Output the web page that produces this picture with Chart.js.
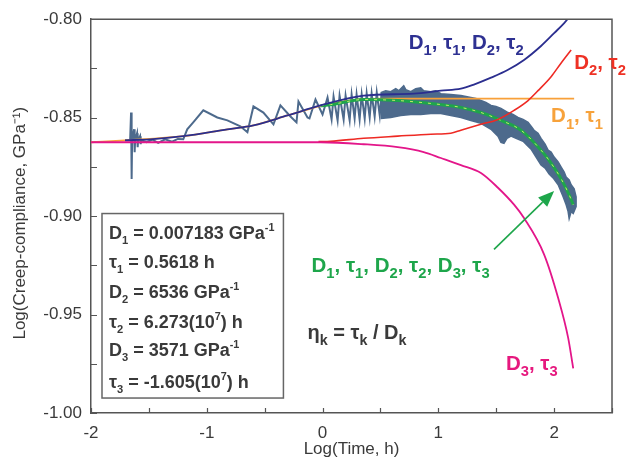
<!DOCTYPE html>
<html>
<head>
<meta charset="utf-8">
<script src="https://cdn.jsdelivr.net/npm/chart.js@4.4.1/dist/chart.umd.min.js"></script>
<style>
  html, body { margin: 0; padding: 0; background: #fff; }
  #wrap { width: 630px; height: 461px; }
</style>
</head>
<body>
<div id="wrap"><canvas id="c" width="630" height="461"></canvas></div>
<script>
// ---- measured creep compliance: early cyclic part, traced as a line ----
const noiseT = [-1.706, -1.662, -1.654, -1.649, -1.645, -1.628, -1.623, -1.619, -1.602, -1.597, -1.593, -1.576, -1.571, -1.567,
  -1.52, -1.47, -1.42, -1.36, -1.30, -1.25, -1.203,
  -1.169, -1.117, -1.030, -0.909, -0.822, -0.710, -0.649, -0.597, -0.511, -0.424, -0.364, -0.277, -0.225, -0.208,
  -0.130, -0.113, -0.061, 0.000, 0.043,
  0.078, 0.095, 0.130, 0.147, 0.182, 0.199, 0.234, 0.251, 0.277, 0.294, 0.320, 0.338, 0.364, 0.381, 0.407, 0.424,
  0.450, 0.468, 0.494, 0.511];
const noiseJ = [-0.8615, -0.8615, -0.8474, -0.8811, -0.8620, -0.8559, -0.8675, -0.8615, -0.8579, -0.8650, -0.8615, -0.8594, -0.8635, -0.8615,
  -0.8625, -0.8612, -0.8628, -0.8610, -0.8622, -0.8608, -0.8610,
  -0.8559, -0.8524, -0.8463, -0.8499, -0.8514, -0.8544, -0.8574, -0.8443, -0.8474, -0.8534, -0.8438, -0.8494, -0.8524, -0.8418,
  -0.8499, -0.8504, -0.8408, -0.8484, -0.8398,
  -0.8509, -0.8393, -0.8514, -0.8388, -0.8509, -0.8388, -0.8514, -0.8383, -0.8504, -0.8383, -0.8509, -0.8383, -0.8504, -0.8378, -0.8499, -0.8378,
  -0.8494, -0.8373, -0.8489, -0.8373];

// ---- measured creep compliance: later dense scatter, upper and lower envelopes ----
const bandUpperT = [0.502, 0.545, 0.589, 0.632, 0.658, 0.701, 0.719, 0.762, 0.805, 0.848, 0.874, 0.935, 0.978, 1.022, 1.108,
  1.195, 1.238, 1.281, 1.325, 1.368, 1.411, 1.455, 1.498, 1.541, 1.602, 1.645, 1.688, 1.732, 1.775, 1.801, 1.827, 1.861,
  1.887, 1.922, 1.948, 1.974, 2.000, 2.035, 2.061, 2.087, 2.104, 2.130, 2.147, 2.173, 2.190];
const bandUpperJ = [-0.8373, -0.8363, -0.8368, -0.8353, -0.8363, -0.8338, -0.8358, -0.8368, -0.8353, -0.8348, -0.8363, -0.8368, -0.8363, -0.8378, -0.8383,
  -0.8388, -0.8393, -0.8398, -0.8403, -0.8413, -0.8423, -0.8438, -0.8443, -0.8453, -0.8474, -0.8484, -0.8499, -0.8509, -0.8524, -0.8544, -0.8564, -0.8579,
  -0.8605, -0.8635, -0.8665, -0.8675, -0.8700, -0.8725, -0.8751, -0.8776, -0.8801, -0.8816, -0.8841, -0.8861, -0.8902];
const bandLowerT = [0.502, 0.589, 0.675, 0.762, 0.848, 0.935, 1.022, 1.108, 1.152, 1.195, 1.281, 1.368, 1.411, 1.455, 1.489,
  1.515, 1.541, 1.567, 1.593, 1.628, 1.671, 1.732, 1.766, 1.801, 1.844, 1.887, 1.922, 1.957, 1.991, 2.035, 2.061, 2.078,
  2.104, 2.121, 2.130, 2.147, 2.165, 2.190];
const bandLowerJ = [-0.8504, -0.8499, -0.8489, -0.8484, -0.8484, -0.8479, -0.8479, -0.8489, -0.8494, -0.8499, -0.8514, -0.8529, -0.8544, -0.8559, -0.8579,
  -0.8594, -0.8625, -0.8630, -0.8605, -0.8594, -0.8605, -0.8620, -0.8640, -0.8660, -0.8700, -0.8741, -0.8756, -0.8786, -0.8806, -0.8841, -0.8877, -0.8902,
  -0.8942, -0.8977, -0.9013, -0.8977, -0.8987, -0.8952];

// ---- model curves ----
// D1, τ1, D2, τ2, D3, τ3 (coincides with the two-element curve at short times)
const fitAllT = [-0.017, 0.069, 0.355, 0.649, 0.935, 1.195, 1.368, 1.541, 1.714, 1.887, 1.948, 2.061, 2.130, 2.165];
const fitAllJ = [-0.8440, -0.8434, -0.8408, -0.8413, -0.8428, -0.8448, -0.8474, -0.8514, -0.8564, -0.8665, -0.8710, -0.8811, -0.8892, -0.8942];
// D1, τ1, D2, τ2
const fit12T = [-1.706, -1.489, -1.203, -0.822, -0.597, -0.303, -0.017, 0.355, 0.788, 1.022, 1.195, 1.307, 1.455, 1.602, 1.740, 1.887, 2.000, 2.087, 2.130];
const fit12J = [-0.8615, -0.8610, -0.8594, -0.8559, -0.8539, -0.8489, -0.8438, -0.8388, -0.8378, -0.8363, -0.8353, -0.8332, -0.8297, -0.8257, -0.8207, -0.8136, -0.8071, -0.8020, -0.7990];
// D1, τ1
const fit1T = [-2, -1.706, -1.203, -0.822, -0.597, -0.303, -0.017, 0.182, 0.355, 0.6, 2.173];
const fit1J = [-0.8625, -0.8615, -0.8594, -0.8559, -0.8539, -0.8489, -0.8440, -0.8418, -0.8405, -0.8403, -0.8403];
// D2, τ2
const fit2T = [-0.035, 0.069, 0.355, 0.649, 0.935, 1.108, 1.195, 1.368, 1.515, 1.654, 1.775, 1.861, 1.974, 2.061, 2.147];
const fit2J = [-0.8622, -0.8620, -0.8605, -0.8594, -0.8584, -0.8579, -0.8564, -0.8534, -0.8509, -0.8463, -0.8413, -0.8363, -0.8292, -0.8222, -0.8156];
// D3, τ3
const fit3T = [-2, -0.017, 0.355, 0.649, 0.874, 1.022, 1.195, 1.368, 1.515, 1.654, 1.740, 1.913, 2.035, 2.121, 2.165];
const fit3J = [-0.8625, -0.8625, -0.8635, -0.8650, -0.8675, -0.8705, -0.8741, -0.8781, -0.8856, -0.8942, -0.9010, -0.9194, -0.9416, -0.9617, -0.9773];

// ---- axes ----
const xMin = -2, xMax = 2.5, xStep = 0.5;
const yMin = -1.0, yMax = -0.8, yStep = 0.025, yLabelStep = 0.05;

// ---- fitted parameters ----
const paramLines = [
  'D_1 = 0.007183 GPa^{-1}',
  'τ_1 = 0.5618 h',
  'D_2 = 6536 GPa^{-1}',
  'τ_2 = 6.273(10^7) h',
  'D_3 = 3571 GPa^{-1}',
  'τ_3 = -1.605(10^7) h'
];
const etaText = 'η_k = τ_k / D_k';

const FONT = "'Liberation Sans', Arial, Helvetica, sans-serif";
const C = {
  noise: '#4d6a8c', fitAll: '#1ea64b', fitAllDash: '#c9e86a', fit12: '#2b2e8f',
  fit1: '#f8a039', fit2: '#ee2a24', fit3: '#e3168a', axis: '#555', text: '#3a3a3a'
};

const curveLabels = [
  { text: 'D_1, τ_1, D_2, τ_2', t: 0.745, j: -0.8151, color: '#2e3192' },
  { text: 'D_2, τ_2', t: 2.173, j: -0.8252, color: '#ee3124' },
  { text: 'D_1, τ_1', t: 1.974, j: -0.8524, color: '#f7a23b' },
  { text: 'D_1, τ_1, D_2, τ_2, D_3, τ_3', t: -0.095, j: -0.9285, color: '#1ea64b' },
  { text: 'D_3, τ_3', t: 1.584, j: -0.9783, color: '#e6187e' }
];
const arrowSpec = { t0: 1.481, j0: -0.9169, t1: 2.0, j1: -0.8872, color: '#1ea64b' };
const boxSpec = { t0: -1.905, j0: -0.8987, t1: -0.338, j1: -0.9924 };
const boxBaselines = [25, 54.5, 84, 114, 142, 174];
const etaSpec = { t: -0.130, j: -0.9622 };

const zip = (ts, js) => ts.map((t, i) => ({ x: t, y: js[i] }));
const bandOutline = zip(bandUpperT, bandUpperJ).concat(zip(bandLowerT, bandLowerJ).reverse());

function line(data, color, width, extra) {
  return Object.assign({
    data, borderColor: color, backgroundColor: color, borderWidth: width,
    showLine: true, pointRadius: 0, pointHoverRadius: 0, fill: false, tension: 0
  }, extra || {});
}

// first dataset is drawn on top
const datasets = [
  line(zip(fit3T, fit3J), C.fit3, 1.8, { cubicInterpolationMode: 'monotone', label: 'D3, τ3' }),
  line(zip(fit2T, fit2J), C.fit2, 1.6, { cubicInterpolationMode: 'monotone', label: 'D2, τ2' }),
  line(zip(fit12T, fit12J), C.fit12, 1.8, { cubicInterpolationMode: 'monotone', label: 'D1, τ1, D2, τ2' }),
  line(zip(fitAllT, fitAllJ), C.fitAllDash, 1, { cubicInterpolationMode: 'monotone', borderDash: [3, 6], label: 'full model centre' }),
  line(zip(fitAllT, fitAllJ), C.fitAll, 3, { cubicInterpolationMode: 'monotone', label: 'D1, τ1, D2, τ2, D3, τ3' }),
  line(zip(fit1T, fit1J), C.fit1, 1.8, { cubicInterpolationMode: 'monotone', label: 'D1, τ1' }),
  line(bandOutline, C.noise, 1.5, { fill: 'shape', backgroundColor: C.noise, label: 'measured (dense)' }),
  line(zip(noiseT, noiseJ), C.noise, 2, { label: 'measured' })
];

// rich text: _x or _{..} subscript, ^x or ^{..} superscript
function parseRich(s) {
  const out = []; let buf = ''; let i = 0;
  while (i < s.length) {
    const c = s[i];
    if (c === '_' || c === '^') {
      if (buf) { out.push([buf, 'n']); buf = ''; }
      let tok;
      if (s[i + 1] === '{') { const e = s.indexOf('}', i); tok = s.slice(i + 2, e); i = e + 1; }
      else { tok = s[i + 1]; i += 2; }
      out.push([tok, c === '_' ? 'sub' : 'sup']);
    } else { buf += c; i++; }
  }
  if (buf) out.push([buf, 'n']);
  return out;
}
function drawRich(ctx, x, y, s, size, color, weight, subScale) {
  const ss = subScale || 0.72;
  ctx.save();
  ctx.fillStyle = color;
  ctx.textBaseline = 'alphabetic';
  ctx.textAlign = 'left';
  for (const [txt, mode] of parseRich(s)) {
    let fs = size, dy = 0;
    if (mode === 'sub') { fs = size * ss; dy = size * 0.3; }
    if (mode === 'sup') { fs = size * 0.6; dy = -size * 0.42; }
    ctx.font = `${weight} ${fs}px ${FONT}`;
    ctx.fillText(txt, x, y + dy);
    x += ctx.measureText(txt).width;
  }
  ctx.restore();
}

const decorPlugin = {
  id: 'decor',
  afterDraw(chart) {
    const { ctx, chartArea: a, scales: { x, y } } = chart;
    ctx.save();
    // frame on top and right
    ctx.strokeStyle = C.axis; ctx.lineWidth = 1.5;
    ctx.beginPath();
    ctx.moveTo(a.left, a.top); ctx.lineTo(a.right, a.top); ctx.lineTo(a.right, a.bottom);
    ctx.stroke();
    // inward tick marks
    ctx.lineWidth = 1.2;
    ctx.beginPath();
    for (let v = yMin; v <= yMax + 1e-9; v += yStep) {
      const p = Math.round(y.getPixelForValue(v)) + 0.5;
      ctx.moveTo(a.left, p); ctx.lineTo(a.left + 6, p);
    }
    for (let v = xMin; v <= xMax + 1e-9; v += xStep) {
      const p = Math.round(x.getPixelForValue(v)) + 0.5;
      ctx.moveTo(p, a.bottom); ctx.lineTo(p, a.bottom - 5);
    }
    ctx.stroke();

    // parameter box
    const bx0 = x.getPixelForValue(boxSpec.t0), by0 = y.getPixelForValue(boxSpec.j0);
    const bx1 = x.getPixelForValue(boxSpec.t1), by1 = y.getPixelForValue(boxSpec.j1);
    ctx.fillStyle = '#fff';
    ctx.fillRect(bx0, by0, bx1 - bx0, by1 - by0);
    ctx.strokeStyle = '#666'; ctx.lineWidth = 1.5;
    ctx.strokeRect(bx0, by0, bx1 - bx0, by1 - by0);
    paramLines.forEach((s, i) => drawRich(ctx, bx0 + 7, by0 + boxBaselines[i], s, 18, C.text, 'bold', 0.62));

    // curve labels
    for (const l of curveLabels) {
      drawRich(ctx, x.getPixelForValue(l.t), y.getPixelForValue(l.j), l.text, 20.5, l.color, 'bold');
    }
    drawRich(ctx, x.getPixelForValue(etaSpec.t), y.getPixelForValue(etaSpec.j), etaText, 20, C.text, 'bold');

    // arrow
    const ax0 = x.getPixelForValue(arrowSpec.t0), ay0 = y.getPixelForValue(arrowSpec.j0);
    const ax1 = x.getPixelForValue(arrowSpec.t1), ay1 = y.getPixelForValue(arrowSpec.j1);
    const ang = Math.atan2(ay1 - ay0, ax1 - ax0);
    const hl = 16, hw = 6.5;
    const bxh = ax1 - hl * Math.cos(ang), byh = ay1 - hl * Math.sin(ang);
    ctx.strokeStyle = arrowSpec.color; ctx.fillStyle = arrowSpec.color; ctx.lineWidth = 1.6;
    ctx.beginPath(); ctx.moveTo(ax0, ay0); ctx.lineTo(bxh, byh); ctx.stroke();
    ctx.beginPath();
    ctx.moveTo(ax1, ay1);
    ctx.lineTo(bxh + hw * Math.sin(ang), byh - hw * Math.cos(ang));
    ctx.lineTo(bxh - hw * Math.sin(ang), byh + hw * Math.cos(ang));
    ctx.closePath(); ctx.fill();
    ctx.restore();
  }
};

const tickFont = { family: FONT, size: 17 };

new Chart(document.getElementById('c'), {
  type: 'scatter',
  data: { datasets },
  plugins: [decorPlugin],
  options: {
    responsive: false,
    animation: false,
    layout: { padding: { top: 16, right: 18, left: 0, bottom: 0 } },
    plugins: { legend: { display: false }, tooltip: { enabled: false } },
    scales: {
      x: {
        type: 'linear', min: xMin, max: xMax,
        grid: { display: false, drawTicks: false },
        border: { display: true, color: C.axis, width: 1.5 },
        ticks: {
          stepSize: xStep, padding: 10, color: C.text, font: tickFont, maxRotation: 0, autoSkip: false,
          callback: v => Math.abs(v - Math.round(v)) < 1e-9 ? String(Math.round(v)) : ''
        },
        title: { display: true, text: 'Log(Time, h)', color: C.text, font: tickFont, padding: { top: 0, bottom: 1 } },
        afterFit: s => { s.height = 48; }
      },
      y: {
        type: 'linear', min: yMin, max: yMax,
        grid: { display: false, drawTicks: false },
        border: { display: true, color: C.axis, width: 1.5 },
        ticks: {
          stepSize: yStep, padding: 9, color: C.text, font: tickFont, autoSkip: false,
          callback: v => {
            const k = Math.round(v / yLabelStep);
            return Math.abs(k * yLabelStep - v) < 1e-9 ? v.toFixed(2) : '';
          }
        },
        title: { display: true, text: 'Log(Creep-compliance, GPa⁻¹)   ', color: C.text, font: tickFont, padding: { top: 10, bottom: 0 } },
        afterFit: s => { s.width = 91; }
      }
    }
  }
});
</script>
</body>
</html>
